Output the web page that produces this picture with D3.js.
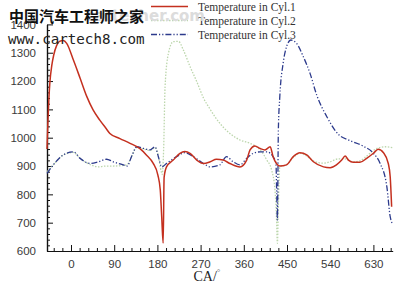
<!DOCTYPE html>
<html>
<head>
<meta charset="utf-8">
<script src="https://cdn.jsdelivr.net/npm/d3@7"></script>
<style>
  body { margin: 0; background: #fff; }
  svg { display: block; }
</style>
</head>
<body>
<div id="chart"></div>
<script>
// crank angle (deg) vs temperature
const cyl1 = [[-50,960],[-48,1060],[-46,1140],[-44,1195],[-40,1255],[-36,1292],[-30,1325],[-24,1340],[-16,1343],[-9,1333],
  [5,1274],[19,1210],[33,1145],[46,1098],[60,1062],[72,1035],[81,1015],[102,997],[123,980],[143,962],[157,939],[171,910],
  [181,868],[186,815],[189,720],[192,628],[194,860],[199,897],[213,921],[227,945],[237,951],[248,945],[262,921],[276,909],
  [290,915],[303,924],[317,921],[331,909],[352,897],[366,921],[373,957],[383,971],[394,962],[404,957],[415,968],[421,933],
  [428,909],[435,900],[449,904],[463,933],[477,947],[491,939],[505,915],[526,897],[540,894],[553,904],[564,921],[571,935],
  [578,921],[588,913],[602,913],[616,927],[630,945],[640,959],[651,947],[661,909],[665,862],[668,756]];

const cyl2 = [[-50,880],[-37,904],[-16,939],[5,948],[19,927],[40,905],[57,897],[74,900],[88,900],[109,902],[117,905],
  [126,933],[137,965],[151,960],[165,955],[175,965],[182,935],[188,880],[190,870],[193,960],[196,1180],[203,1298],
  [213,1339],[224,1340],[234,1310],[248,1251],[262,1198],[276,1140],[290,1100],[310,1051],[331,1015],[352,992],[373,980],
  [394,957],[408,921],[418,886],[425,815],[428,721],[430,627],[432,760],[435,897],[449,905],[463,930],[477,945],[491,935],
  [505,918],[526,910],[540,915],[556,925],[571,925],[588,915],[602,918],[616,935],[637,962],[655,968],[670,965]];

const cyl3 = [[-50,874],[-37,904],[-16,939],[5,950],[19,927],[40,909],[57,915],[74,924],[88,915],[109,904],[117,900],
  [126,933],[137,968],[151,962],[165,957],[175,968],[182,933],[189,897],[199,909],[220,933],[237,947],[255,933],[276,909],
  [290,897],[310,904],[324,933],[338,915],[352,904],[366,927],[380,945],[394,950],[408,950],[421,933],[427,909],[428.5,808],
  [430,709],[432,1027],[435,1145],[442,1263],[449,1321],[458,1345],[470,1333],[484,1286],[498,1227],[512,1150],[533,1074],
  [557,1012],[581,990],[609,970],[630,945],[644,909],[658,827],[665,721],[669,698]];

const seriesNames = ["Temperature in Cyl.1", "Temperature in Cyl.2", "Temperature in Cyl.3"];
const xTicks = [0, 90, 180, 270, 360, 450, 540, 630];
const yTicks = [600, 700, 800, 900, 1000, 1100, 1200, 1300, 1400];

const W = 400, H = 287;
const svg = d3.select("#chart").append("svg")
  .attr("width", W)
  .attr("height", H);

const x = d3.scaleLinear().domain([-50, 670]).range([47, 392.6]);
const y = d3.scaleLinear().domain([600, 1400]).range([251, 24.4]);

// axes, ticks pointing inward
const xAxis = d3.axisBottom(x).tickValues(xTicks).tickSize(-6).tickPadding(9).tickSizeOuter(0)
  .tickFormat(d3.format("d"));
const xMinor = d3.axisBottom(x).tickValues(d3.range(-36, 670, 18).filter(d => d % 90 !== 0))
  .tickSize(-3).tickFormat("").tickSizeOuter(0);
const yAxis = d3.axisLeft(y).tickValues(yTicks).tickSize(-6).tickPadding(11).tickSizeOuter(0)
  .tickFormat(d3.format("d"));
const yMinor = d3.axisLeft(y).tickValues(d3.range(620, 1400, 20).filter(d => d % 100 !== 0))
  .tickSize(-3).tickFormat("").tickSizeOuter(0);

function styleAxis(g) {
  g.selectAll(".domain").attr("stroke", "#111").attr("stroke-width", 1.2);
  g.selectAll(".tick line").attr("stroke", "#111");
  g.selectAll(".tick text").attr("fill", "#3a3a3a")
    .style("font-family", "'Liberation Sans', Arial, sans-serif").style("font-size", "11.5px");
}

svg.append("g").attr("transform", "translate(0,251)").call(xMinor).call(styleAxis);
svg.append("g").attr("transform", "translate(0,251)").call(xAxis).call(styleAxis);
svg.append("g").attr("transform", "translate(47,0)").call(yMinor).call(styleAxis);
svg.append("g").attr("transform", "translate(47,0)").call(yAxis).call(styleAxis);

// axis title
const title = svg.append("text")
  .attr("x", 207).attr("y", 281)
  .attr("text-anchor", "middle")
  .style("font-family", "'Liberation Serif', 'Times New Roman', serif")
  .style("font-size", "14px")
  .attr("fill", "#222");
title.append("tspan").text("CA/");
title.append("tspan").attr("dy", -6).style("font-size", "9px").attr("fill", "#777").text("°");

// lines
const line = d3.line()
  .x(d => x(d[0]))
  .y(d => y(d[1]))
  .curve(d3.curveMonotoneX);

const styles = [
  { data: cyl1, color: "#c4301f", width: 1.5, dash: null },
  { data: cyl2, color: "#bcd6ac", width: 1.3, dash: "1.5,1.5" },
  { data: cyl3, color: "#2c3a8c", width: 1.3, dash: "6,2,1.2,2,1.2,2" }
];

// draw order: green, blue, red on top
[1, 2, 0].forEach(i => {
  const s = styles[i];
  svg.append("path")
    .datum(s.data)
    .attr("d", line)
    .attr("fill", "none")
    .attr("stroke", s.color)
    .attr("stroke-width", s.width)
    .attr("stroke-dasharray", s.dash);
});

// legend
const legY = [6.5, 20.5, 34.5];
seriesNames.forEach((name, i) => {
  const s = styles[i];
  svg.append("line")
    .attr("x1", 151).attr("x2", 188)
    .attr("y1", legY[i]).attr("y2", legY[i])
    .attr("stroke", s.color)
    .attr("stroke-width", s.width)
    .attr("stroke-dasharray", s.dash);
  svg.append("text")
    .attr("x", 198).attr("y", legY[i] + 4)
    .style("font-family", "'Liberation Serif', 'Times New Roman', serif")
    .style("font-size", "11.5px")
    .attr("fill", "#333")
    .text(name);
});

// site watermark
svg.append("text")
  .attr("x", 205).attr("y", 21)
  .attr("text-anchor", "end")
  .style("font-family", "'DejaVu Sans', sans-serif")
  .style("font-weight", "bold")
  .style("font-size", "15px")
  .attr("fill", "#dcdcdc")
  .text("cartecher.com");
svg.append("text")
  .attr("x", 9).attr("y", 22)
  .style("font-family", "'Noto Sans CJK SC', sans-serif")
  .style("font-weight", "bold")
  .style("font-size", "15px")
  .attr("fill", "#111")
  .text("中国汽车工程师之家");
svg.append("text")
  .attr("x", 8).attr("y", 44)
  .style("font-family", "'DejaVu Sans Mono', monospace")
  .style("font-size", "14.2px")
  .attr("fill", "#222")
  .text("www.cartech8.com");
</script>
</body>
</html>
